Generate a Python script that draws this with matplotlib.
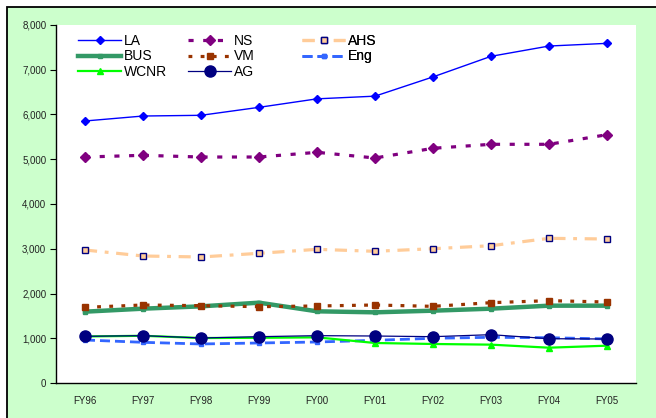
import matplotlib
matplotlib.use("Agg")
import matplotlib.pyplot as plt
from matplotlib.patches import Rectangle
from matplotlib.ticker import FuncFormatter

plt.rcParams['font.family'] = ['Liberation Sans', 'DejaVu Sans']

years = ["FY96", "FY97", "FY98", "FY99", "FY00", "FY01", "FY02", "FY03", "FY04", "FY05"]
LA   = [5855, 5966, 5982, 6160, 6350, 6410, 6840, 7300, 7530, 7590]
NS   = [5050, 5088, 5050, 5050, 5155, 5028, 5245, 5334, 5334, 5549]
AHS  = [2972, 2838, 2816, 2898, 2987, 2943, 3001, 3068, 3233, 3218]
BUS  = [1594, 1661, 1713, 1795, 1602, 1579, 1616, 1661, 1728, 1728]
VM   = [1691, 1743, 1728, 1706, 1721, 1743, 1713, 1795, 1840, 1810]
Eng  = [961, 909, 872, 894, 916, 954, 999, 1021, 1012, 985]
WCNR = [1040, 1055, 1005, 1010, 1020, 894, 872, 857, 789, 834]
AG   = [1043, 1058, 1006, 1035, 1058, 1050, 1035, 1080, 990, 983]
yticks = [0, 1000, 2000, 3000, 4000, 5000, 6000, 7000, 8000]

W, H = 656, 418
fig = plt.figure(figsize=(W / 100, H / 100), dpi=100)
fig.patch.set_facecolor('white')
bg = Rectangle((7 / W, -0.2), 1.5, 1 - 7 / H + 0.2, transform=fig.transFigure,
               facecolor='#CCFFCC', edgecolor='black', linewidth=1.3, zorder=-10)
fig.patches.append(bg)

ax = fig.add_axes([56 / W, (H - 383) / H, 580 / W, 358 / H])
ax.set_facecolor('white')
x = list(range(len(years)))

series = {}
series['LA'], = ax.plot(x, LA, color='#0000FF', lw=1.0, marker='D', ms=4, label='LA')
series['NS'], = ax.plot(x, NS, color='#800080', lw=2.3, dashes=(1.6, 3.0), marker='D', ms=5.5,
                        label='NS')
series['AHS'], = ax.plot(x, AHS, color='#FFCC99', lw=2.3, dashes=(3.8, 2.4, 1.2, 2.4), marker='s',
                         ms=5, mfc='#FFCC99', mec='#000080', mew=1.0, label='AHS')
series['BUS'], = ax.plot(x, BUS, color='#339966', lw=3.2, marker='s', ms=3, label='BUS')
series['VM'], = ax.plot(x, VM, color='#993300', lw=2.3, dashes=(1.2, 2.6), marker='s', ms=4,
                        label='VM')
series['Eng'], = ax.plot(x, Eng, color='#3366FF', lw=2.0, dashes=(3.6, 1.8), marker='s', ms=3,
                         label='Eng')
series['WCNR'], = ax.plot(x, WCNR, color='#00FF00', lw=1.6, marker='^', ms=5, label='WCNR')
series['AG'], = ax.plot(x, AG, color='#000080', lw=0.9, marker='o', ms=8, label='AG')

ax.set_xlim(-0.5, len(years) - 0.5)
ax.set_ylim(0, 8000)
ax.set_yticks(yticks)
ax.yaxis.set_major_formatter(FuncFormatter(lambda v, p: f"{int(v):,}"))
ax.set_xticks(x)
ax.set_xticklabels(years)
ax.tick_params(axis='y', length=4, width=0.8, labelsize=7, colors='black', labelcolor='#222222', pad=3)
ax.tick_params(axis='x', length=0, labelsize=7, labelcolor='#222222', pad=9)
for s in ['top', 'right']:
    ax.spines[s].set_visible(False)
for s in ['left', 'bottom']:
    ax.spines[s].set_color('black')
    ax.spines[s].set_linewidth(1.0)

cols = [(['LA', 'BUS', 'WCNR'], 78), (['NS', 'VM', 'AG'], 188), (['AHS', 'Eng'], 302)]
for names, px in cols:
    leg = ax.legend([series[n] for n in names], names, loc='upper left',
                    bbox_to_anchor=(px / W, 1 - 34 / H), bbox_transform=fig.transFigure,
                    frameon=False, fontsize=10, handlelength=3.1, handletextpad=0.2,
                    labelspacing=0.1, borderpad=0, borderaxespad=0, numpoints=1)
    ax.add_artist(leg)

fig.savefig('out.png', dpi=100)
